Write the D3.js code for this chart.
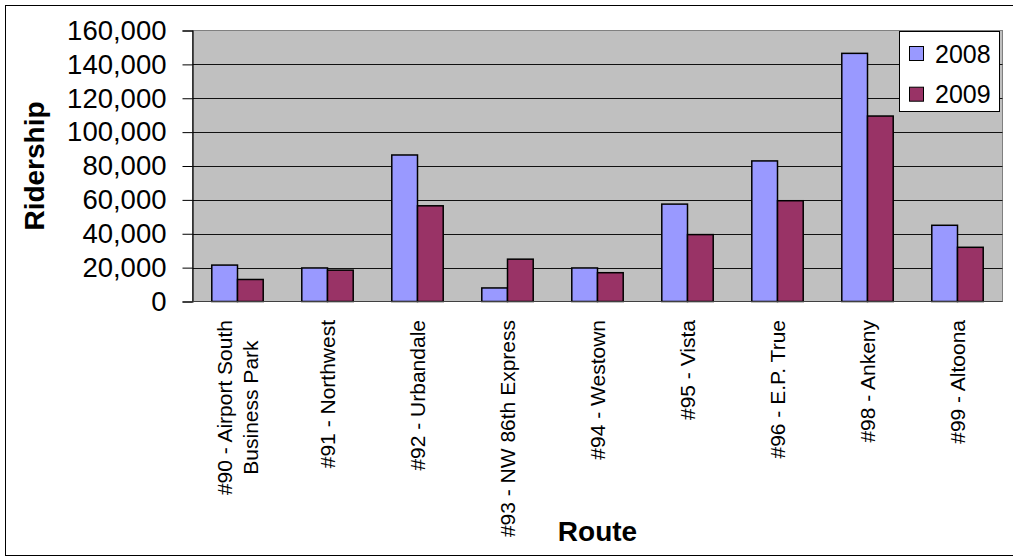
<!DOCTYPE html>
<html>
<head>
<meta charset="utf-8">
<script src="https://cdn.jsdelivr.net/npm/d3@7/dist/d3.min.js"></script>
<style>
  html, body { margin: 0; padding: 0; background: #fff; }
  svg { display: block; font-family: "Liberation Sans", Arial, sans-serif; }
</style>
</head>
<body>
<svg id="chart" width="1013" height="557"></svg>
<script>
// Route ridership, 2008 vs 2009
const routes = [
  "#90 - Airport South\nBusiness Park",
  "#91 - Northwest",
  "#92 - Urbandale",
  "#93 - NW 86th Express",
  "#94 - Westown",
  "#95 - Vista",
  "#96 - E.P. True",
  "#98 - Ankeny",
  "#99 - Altoona"
];
const seriesNames = ["2008", "2009"];
const riders2008 = [21500, 19800, 86500, 8000, 19800, 57500, 83000, 146500, 45000];
const riders2009 = [13000, 18500, 56500, 25000, 17000, 39500, 59500, 109500, 32000];
const yTicks = [0, 20000, 40000, 60000, 80000, 100000, 120000, 140000, 160000];
const seriesColors = ["#9999FF", "#993366"];

const svg = d3.select("#chart");
const W = 1013, H = 557;
const plot = { left: 192.5, right: 1002.5, top: 30.5, bottom: 301.5 };

// outer chart frame
svg.append("rect")
  .attr("x", 5.5).attr("y", 5.5)
  .attr("width", W).attr("height", 550)
  .attr("fill", "#fff").attr("stroke", "#000").attr("stroke-width", 1);

const x = d3.scaleBand().domain(routes).range([plot.left, plot.right]).padding(0);
const xs = d3.scaleBand().domain(seriesNames).range([0, x.bandwidth()])
  .paddingInner(0).paddingOuter(0.75);
const y = d3.scaleLinear().domain([0, 160000]).range([plot.bottom, plot.top]);

// plot background
svg.append("rect")
  .attr("x", plot.left).attr("y", plot.top)
  .attr("width", plot.right - plot.left).attr("height", plot.bottom - plot.top)
  .attr("fill", "#C0C0C0").attr("stroke", "#808080").attr("stroke-width", 1);

// horizontal gridlines
svg.append("g")
  .selectAll("line")
  .data(yTicks.filter(d => d > 0 && d < 160000))
  .join("line")
  .attr("x1", plot.left).attr("x2", plot.right)
  .attr("y1", d => Math.round(y(d)) + 0.5).attr("y2", d => Math.round(y(d)) + 0.5)
  .attr("stroke", "#111").attr("stroke-width", 1);

// bars
const data = routes.map((r, i) => ({ route: r, values: [riders2008[i], riders2009[i]] }));
const groups = svg.append("g").selectAll("g")
  .data(data).join("g")
  .attr("transform", d => `translate(${x(d.route)},0)`);
groups.selectAll("rect")
  .data(d => d.values.map((v, j) => ({ key: seriesNames[j], value: v, j })))
  .join("rect")
  .attr("x", d => xs(d.key))
  .attr("y", d => y(d.value))
  .attr("width", xs.bandwidth())
  .attr("height", d => y(0) - y(d.value))
  .attr("fill", d => seriesColors[d.j])
  .attr("stroke", "#000").attr("stroke-width", 1.5);

// y axis
const yAxis = d3.axisLeft(y)
  .tickValues(yTicks)
  .tickSize(10)
  .tickPadding(16)
  .tickFormat(d3.format(","));
const yg = svg.append("g").attr("transform", `translate(${plot.left},0)`).call(yAxis);
yg.select(".domain").attr("stroke", "#000").attr("stroke-width", 1.2);
yg.selectAll(".tick line").attr("stroke", "#000");
yg.selectAll(".tick text")
  .attr("font-size", 27.5).attr("fill", "#000")
  .attr("font-family", "Liberation Sans, Arial, sans-serif");

// category axis line
svg.append("line")
  .attr("x1", plot.left).attr("x2", plot.right)
  .attr("y1", plot.bottom).attr("y2", plot.bottom)
  .attr("stroke", "#404040").attr("stroke-width", 1.2);

// category labels, rotated
const labelTop = 320;
const labelG = svg.append("g");
routes.forEach(r => {
  const lines = r.split("\n");
  const g = labelG.append("g")
    .attr("transform", `translate(${x(r) + x.bandwidth() / 2},${labelTop}) rotate(-90)`);
  const lineH = 26.5;
  const texts = lines.map((ln, k) => g.append("text")
    .attr("font-size", 21)
    .attr("fill", "#000")
    .attr("y", (k - (lines.length - 1) / 2) * lineH)
    .attr("dy", "0.35em")
    .text(ln));
  const maxW = d3.max(texts, t => t.node().getComputedTextLength());
  texts.forEach(t => t.attr("text-anchor", "middle").attr("x", -maxW / 2));
});

// axis titles
svg.append("text")
  .attr("transform", `translate(43.5,${(plot.top + plot.bottom) / 2}) rotate(-90)`)
  .attr("text-anchor", "middle")
  .attr("font-size", 28).attr("font-weight", "bold")
  .text("Ridership");
svg.append("text")
  .attr("x", (plot.left + plot.right) / 2).attr("y", 541)
  .attr("text-anchor", "middle")
  .attr("font-size", 28).attr("font-weight", "bold")
  .text("Route");

// legend
const lg = svg.append("g").attr("transform", "translate(899.5,31.5)");
lg.append("rect").attr("width", 100).attr("height", 80)
  .attr("fill", "#fff").attr("stroke", "#000").attr("stroke-width", 1);
seriesNames.forEach((s, i) => {
  const row = lg.append("g").attr("transform", `translate(0,${i * 40.7})`);
  row.append("rect").attr("x", 10).attr("y", 15)
    .attr("width", 14).attr("height", 14)
    .attr("fill", seriesColors[i]).attr("stroke", "#000").attr("stroke-width", 1);
  row.append("text").attr("x", 35.5).attr("y", 31.2)
    .attr("font-size", 25).attr("fill", "#000").text(s);
});
</script>
</body>
</html>
